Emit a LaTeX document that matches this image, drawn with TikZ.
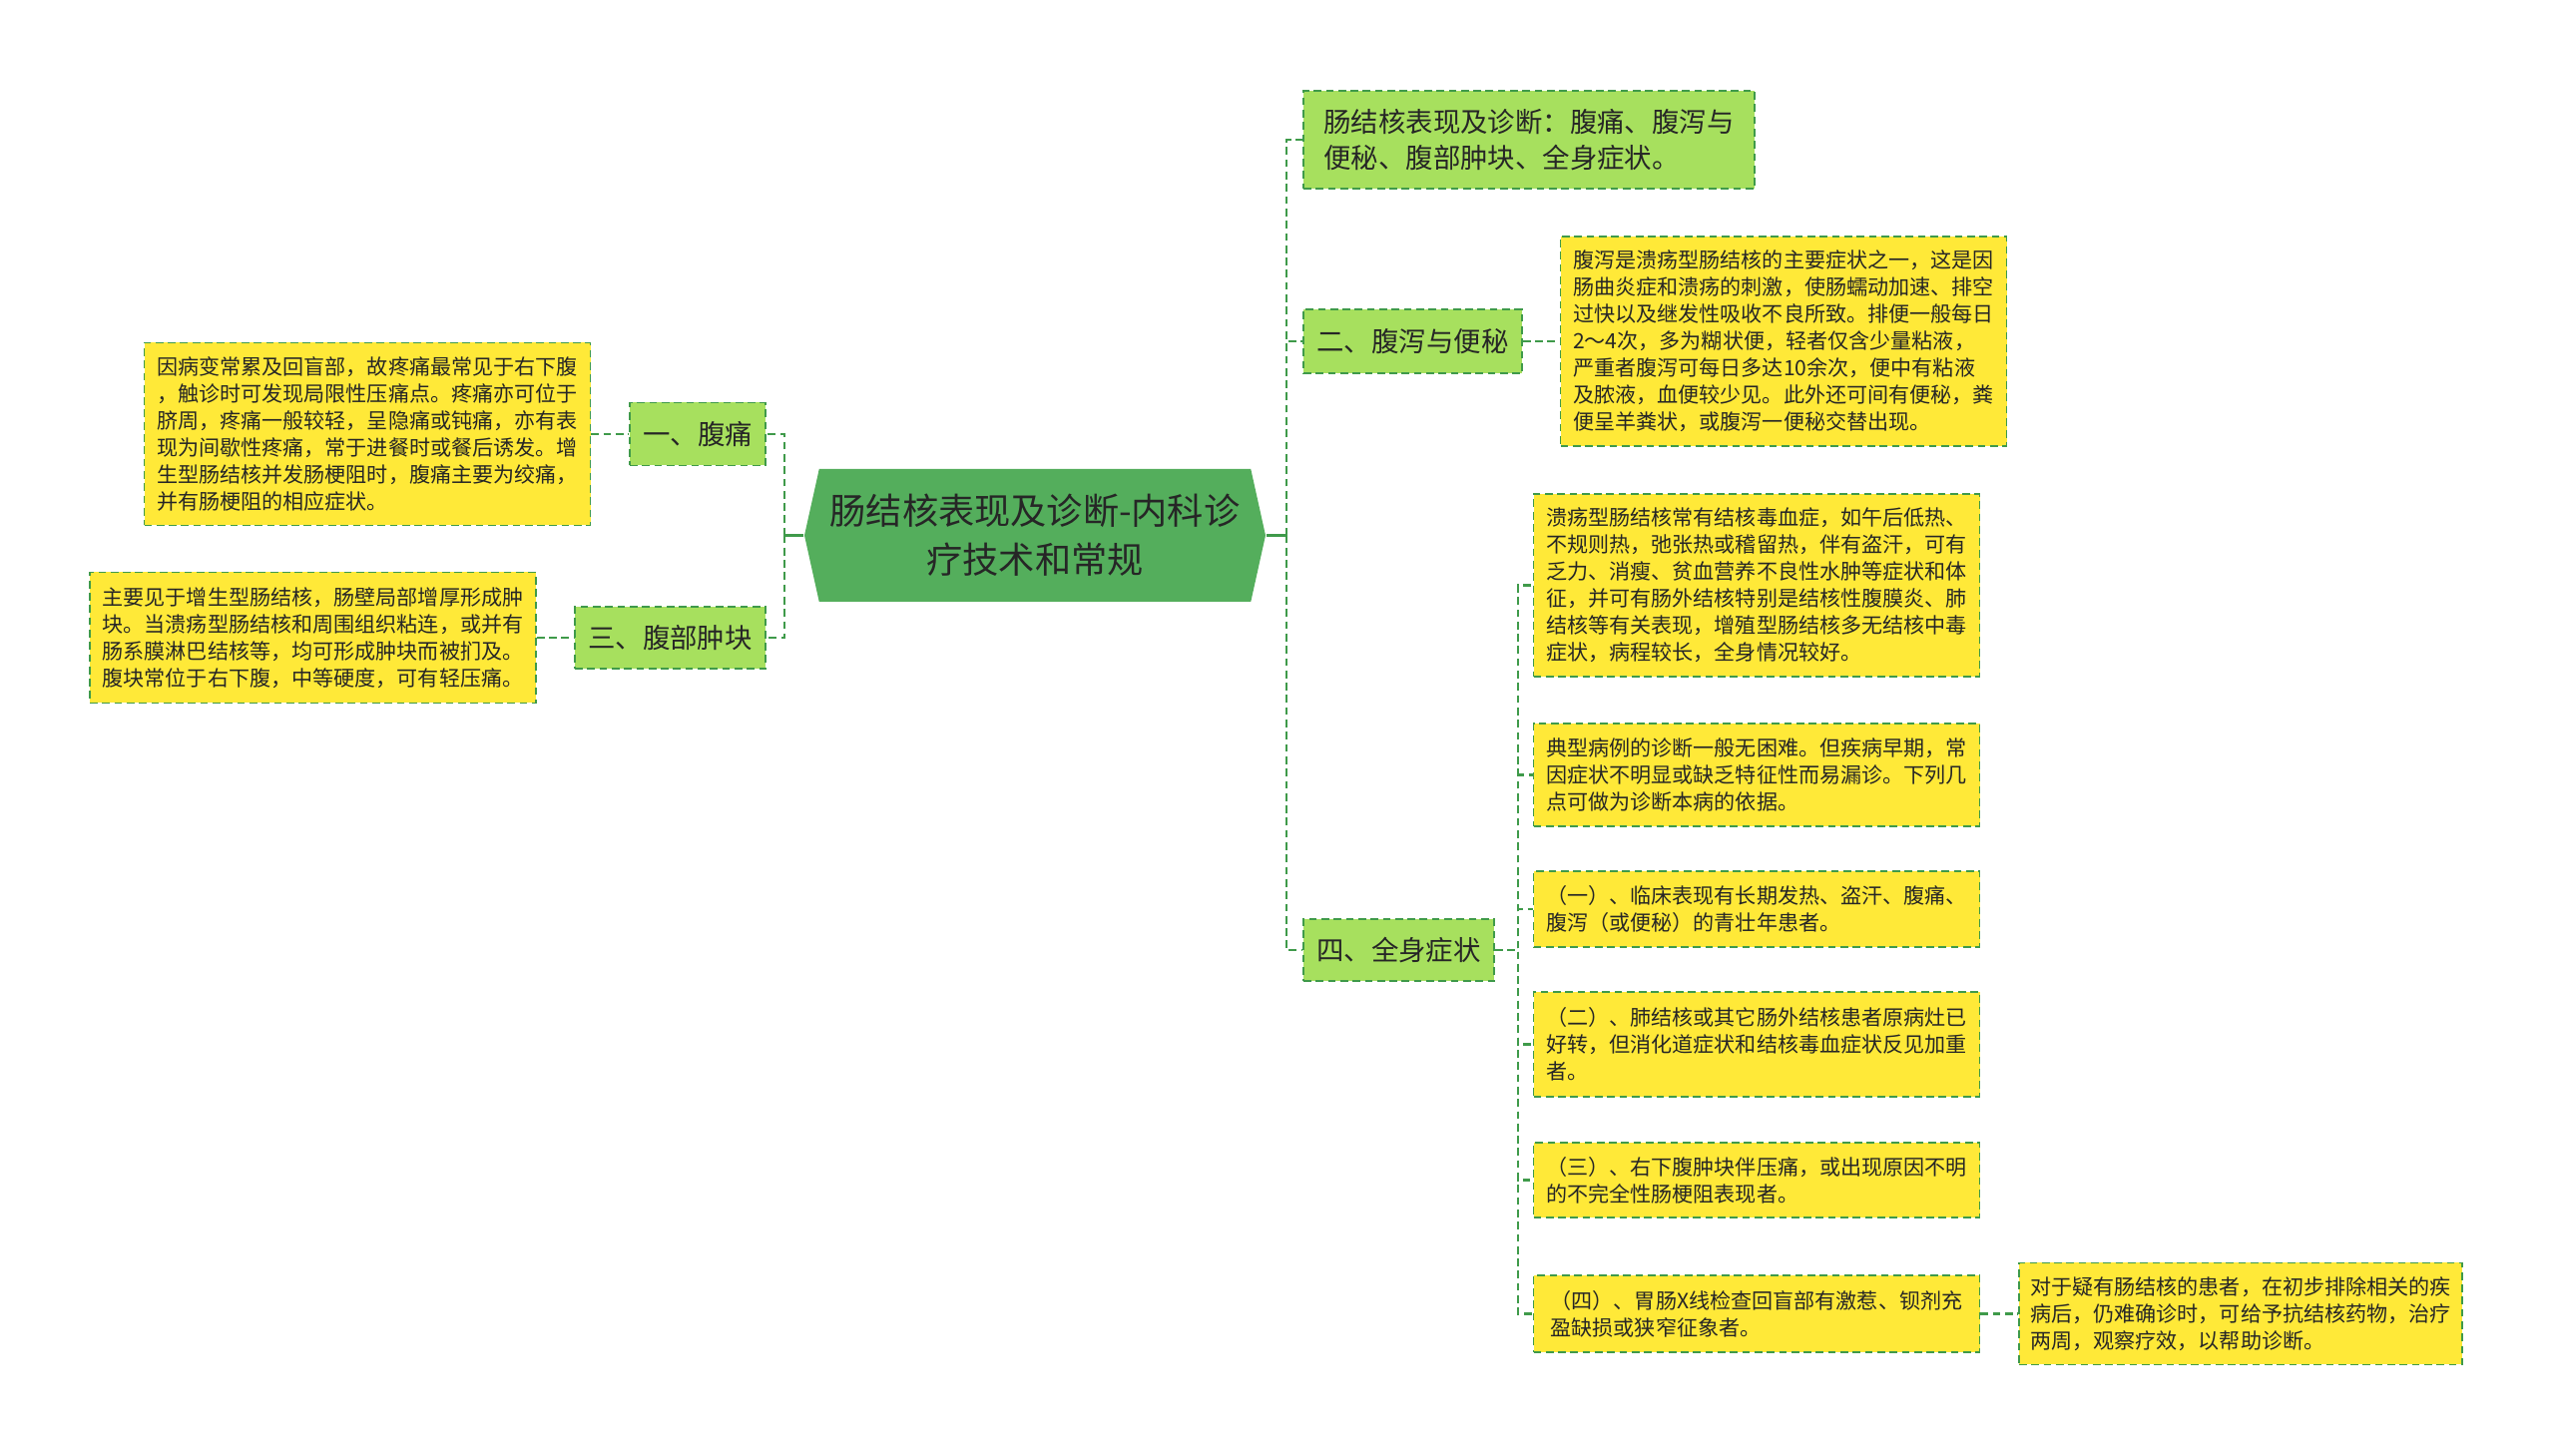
\documentclass[tikz,border=0pt]{standalone}
\usepackage{fontspec}
\setmainfont{Noto Sans CJK SC}
\usetikzlibrary{shapes.symbols}
\definecolor{leafyellow}{HTML}{FFE938}
\definecolor{topicgreen}{HTML}{A7E05E}
\definecolor{rootgreen}{HTML}{54AE5C}
\definecolor{edgegreen}{HTML}{3F9A4A}
\definecolor{inkgray}{HTML}{262626}
\begin{document}
\begin{tikzpicture}[
   root/.style={signal, signal to=east and west, signal pointer angle=155, fill=rootgreen,
      text=inkgray, align=center, font=\fontsize{10.3}{13.9}\selectfont,
      minimum width=4.62cm, minimum height=1.33cm, inner sep=0pt},
   topic/.style={rectangle, draw=edgegreen, line width=0.5pt, dash pattern=on 2.2pt off 1.3pt,
      fill=topicgreen, text=inkgray, align=left, font=\fontsize{7.8}{10.2}\selectfont, inner sep=0pt},
   leaf/.style={rectangle, draw=edgegreen, line width=0.5pt, dash pattern=on 2.2pt off 1.3pt,
      fill=leafyellow, text=inkgray, align=left, font=\fontsize{6}{7.7}\selectfont,
      minimum width=4.47cm, inner sep=0pt},
   link/.style={draw=edgegreen, line width=0.6pt, dash pattern=on 2.2pt off 1.3pt},
   stub/.style={draw=edgegreen, line width=0.8pt}
]
\useasboundingbox (0,0) rectangle (25.6,-14.59);

% Root
\node[root] (root) at (10.37,-5.365) {肠结核表现及诊断-内科诊\\疗技术和常规};

% Left branches
\node[topic, minimum width=1.36cm, minimum height=0.63cm] (pain) at (6.99,-4.35) {一、腹痛};
\node[leaf, minimum height=1.83cm] (painnote) at (3.68,-4.35) {因病变常累及回盲部，故疼痛最常见于右下腹\\，触诊时可发现局限性压痛点。疼痛亦可位于\\脐周，疼痛一般较轻，呈隐痛或钝痛，亦有表\\现为间歇性疼痛，常于进餐时或餐后诱发。增\\生型肠结核并发肠梗阻时，腹痛主要为绞痛，\\并有肠梗阻的相应症状。};
\node[topic, minimum width=1.91cm, minimum height=0.62cm] (mass) at (6.715,-6.39) {三、腹部肿块};
\node[leaf, minimum height=1.31cm] (massnote) at (3.135,-6.39) {主要见于增生型肠结核，肠壁局部增厚形成肿\\块。当溃疡型肠结核和周围组织粘连，或并有\\肠系膜淋巴结核等，均可形成肿块而被扪及。\\腹块常位于右下腹，中等硬度，可有轻压痛。};

% Right branches
\node[topic, minimum width=4.52cm, minimum height=0.98cm] (summary) at (15.32,-1.40) {肠结核表现及诊断：腹痛、腹泻与\\便秘、腹部肿块、全身症状。};
\node[topic, minimum width=2.19cm, minimum height=0.64cm] (diarrhea) at (14.155,-3.42) {二、腹泻与便秘};
\node[leaf, minimum height=2.10cm] (diarnote) at (17.87,-3.42) {腹泻是溃疡型肠结核的主要症状之一，这是因\\肠曲炎症和溃疡的刺激，使肠蠕动加速、排空\\过快以及继发性吸收不良所致。排便一般每日\\2～4次，多为糊状便，轻者仅含少量粘液，\\严重者腹泻可每日多达10余次，便中有粘液\\及脓液，血便较少见。此外还可间有便秘，粪\\便呈羊粪状，或腹泻一便秘交替出现。};
\node[topic, minimum width=1.91cm, minimum height=0.62cm] (general) at (14.015,-9.52) {四、全身症状};

% Systemic symptoms
\node[leaf, minimum height=1.83cm] (syma) at (17.60,-5.865) {溃疡型肠结核常有结核毒血症，如午后低热、\\不规则热，弛张热或稽留热，伴有盗汗，可有\\乏力、消瘦、贫血营养不良性水肿等症状和体\\征，并可有肠外结核特别是结核性腹膜炎、肺\\结核等有关表现，增殖型肠结核多无结核中毒\\症状，病程较长，全身情况较好。};
\node[leaf, minimum height=1.03cm] (symb) at (17.60,-7.765) {典型病例的诊断一般无困难。但疾病早期，常\\因症状不明显或缺乏特征性而易漏诊。下列几\\点可做为诊断本病的依据。};
\node[leaf, minimum height=0.76cm] (symc) at (17.60,-9.11) {（一）、临床表现有长期发热、盗汗、腹痛、\\腹泻（或便秘）的青壮年患者。};
\node[leaf, minimum height=1.05cm] (symd) at (17.60,-10.465) {（二）、肺结核或其它肠外结核患者原病灶已\\好转，但消化道症状和结核毒血症状反见加重\\者。};
\node[leaf, minimum height=0.75cm] (syme) at (17.60,-11.825) {（三）、右下腹肿块伴压痛，或出现原因不明\\的不完全性肠梗阻表现者。};
\node[leaf, minimum height=0.77cm] (symf) at (17.60,-13.165) {（四）、胃肠X线检查回盲部有激惹、钡剂充\\盈缺损或狭窄征象者。};
\node[leaf, minimum width=4.44cm, minimum height=1.02cm] (trial) at (22.45,-13.165) {对于疑有肠结核的患者，在初步排除相关的疾\\病后，仍难确诊时，可给予抗结核药物，治疗\\两周，观察疗效，以帮助诊断。};

% Connectors
\draw[stub] (root.west) -- ++(-0.19,0);
\draw[stub] (root.east) -- ++(0.20,0);
\foreach \t in {pain,mass}
   \draw[link] (root.west) ++(-0.19,0) |- (\t.east);
\foreach \t in {summary,diarrhea,general}
   \draw[link] (root.east) ++(0.20,0) |- (\t.west);
\foreach \t in {syma,symb,symc,symd,syme,symf}
   \draw[link] (general.east) -- ++(0.23,0) |- (\t.west);
\draw[link] (painnote) -- (pain);
\draw[link] (massnote) -- (mass);
\draw[link] (diarrhea) -- (diarnote);
\draw[link] (symf) -- (trial);

\end{tikzpicture}
\end{document}
